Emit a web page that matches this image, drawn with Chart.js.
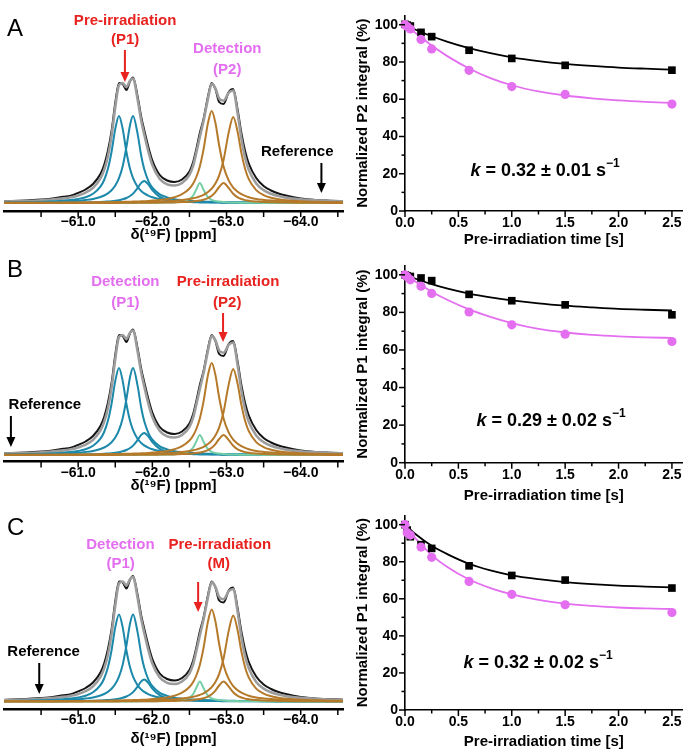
<!DOCTYPE html>
<html>
<head>
<meta charset="utf-8">
<script src="https://cdn.jsdelivr.net/npm/chart.js@4.4.1/dist/chart.umd.min.js"></script>
<style>
  html, body { margin: 0; padding: 0; background: #fff; }
  #fig { position: relative; width: 688px; height: 753px; overflow: hidden; background: #fff; }
  #fig canvas { position: absolute; }
</style>
</head>
<body>
<div id="fig"></div>
<script>
// 1. DATA

// 19F spectrum: chemical shift grid + intensities above baseline (same spectrum in A, B, C)
const ppmGrid = [-60.0, -60.3, -60.6, -60.8, -60.9, -61.0, -61.1, -61.2, -61.3, -61.35, -61.4, -61.45, -61.5, -61.55, -61.6, -61.65, -61.7, -61.74, -61.8, -61.85, -61.89, -61.95, -62.0, -62.1, -62.2, -62.3, -62.4, -62.5, -62.55, -62.59, -62.64, -62.69, -62.75, -62.8, -62.85, -62.9, -62.96, -63.03, -63.09, -63.15, -63.2, -63.25, -63.3, -63.4, -63.5, -63.6, -63.7, -63.8, -64.0, -64.2, -64.4, -64.6];
const measured = [1.6, 2.6, 3.9, 6.2, 7.4, 10.2, 13.5, 19, 29, 38, 52, 72, 100, 120, 119, 113, 122, 125.5, 107, 86, 73, 55, 42.5, 28, 22.5, 21, 23.5, 31.5, 41, 53, 70, 84, 106.5, 120, 114, 101, 99, 111, 114, 93, 70, 52, 39.5, 25, 17, 12.5, 9.5, 7.5, 4.6, 3.0, 2.3, 1.8];
const fitTotal = [1.4, 2.0, 3.2, 4.6, 5.8, 7.6, 10.3, 15.1, 24.6, 33.1, 46.5, 67.4, 96, 118, 120, 116, 122.5, 124.5, 104, 82.4, 68.8, 50.4, 38, 24, 18.6, 17.5, 20, 28.2, 37.3, 49.6, 66, 82, 104.4, 119.1, 114.6, 104.5, 102.3, 110.3, 112.5, 89.5, 64.5, 45.6, 33.2, 19.6, 12.9, 9.2, 6.9, 5.4, 3.6, 2.7, 2.0, 1.6];
const blue1 = [0.5, 0.8, 1.4, 2.2, 2.9, 4.0, 5.8, 9.2, 16.3, 23.0, 33.9, 51.3, 74.1, 87, 74.1, 51.3, 33.9, 24.8, 16.3, 12.0, 9.6, 7.2, 5.8, 4.0, 2.9, 2.2, 1.7, 1.4, 1.2, 1.1, 1.0, 1.0, 0.9, 0.8, 0.7, 0.7, 0.6, 0.6, 0.5, 0.5, 0.5, 0.4, 0.4, 0.4, 0.3, 0.3, 0.3, 0.3, 0.2, 0.2, 0.2, 0.1];
const blue2 = [0.4, 0.6, 1.0, 1.4, 1.7, 2.2, 3.0, 4.1, 6.0, 7.5, 9.6, 12.7, 17.4, 24.8, 36.8, 55.7, 78.3, 87, 69.6, 47.3, 33.9, 21.4, 15.3, 8.7, 5.6, 3.8, 2.8, 2.1, 1.9, 1.7, 1.5, 1.4, 1.2, 1.1, 1.0, 0.9, 0.8, 0.8, 0.7, 0.6, 0.6, 0.6, 0.5, 0.5, 0.4, 0.4, 0.3, 0.3, 0.2, 0.2, 0.2, 0.2];
const blue3 = [0.1, 0.2, 0.2, 0.3, 0.4, 0.5, 0.6, 0.8, 1.0, 1.2, 1.5, 1.8, 2.2, 2.8, 3.7, 5.0, 7.0, 9.4, 14.9, 20.1, 22, 18.1, 12.8, 6.1, 3.3, 2.0, 1.3, 1.0, 0.8, 0.7, 0.6, 0.6, 0.5, 0.4, 0.4, 0.4, 0.3, 0.3, 0.3, 0.2, 0.2, 0.2, 0.2, 0.2, 0.2, 0.1, 0.1, 0.1, 0.1, 0.1, 0.1, 0.1];
const green1 = [0, 0, 0, 0, 0, 0, 0, 0.1, 0.1, 0.1, 0.1, 0.1, 0.1, 0.1, 0.1, 0.1, 0.1, 0.1, 0.1, 0.2, 0.2, 0.2, 0.2, 0.3, 0.5, 0.8, 1.6, 4.0, 7.5, 13.2, 20, 13.2, 5.8, 3.2, 2.0, 1.4, 0.9, 0.6, 0.5, 0.4, 0.3, 0.3, 0.2, 0.2, 0.1, 0.1, 0.1, 0.1, 0, 0, 0, 0];
const brown1 = [0.2, 0.3, 0.3, 0.4, 0.4, 0.5, 0.5, 0.6, 0.7, 0.7, 0.8, 0.9, 0.9, 1.0, 1.1, 1.2, 1.3, 1.4, 1.5, 1.7, 1.8, 2.1, 2.4, 3.1, 4.1, 5.8, 8.8, 14.5, 19.6, 25.5, 36.6, 53.6, 80.1, 92, 80.1, 57.8, 36.6, 22.3, 15.4, 11.2, 8.8, 7.1, 5.8, 4.1, 3.1, 2.4, 1.9, 1.5, 1.1, 0.8, 0.6, 0.5];
const brown2 = [0.2, 0.2, 0.2, 0.3, 0.3, 0.3, 0.4, 0.4, 0.5, 0.5, 0.5, 0.5, 0.6, 0.6, 0.7, 0.7, 0.8, 0.8, 0.9, 0.9, 1.0, 1.1, 1.2, 1.5, 1.8, 2.3, 3.0, 4.0, 4.7, 5.4, 6.6, 8.2, 11.0, 14.4, 19.5, 27.4, 43.0, 70.9, 86, 70.9, 50.1, 34.2, 23.8, 12.9, 7.9, 5.3, 3.7, 2.8, 1.7, 1.2, 0.8, 0.6];
const brown3 = [0, 0, 0.1, 0.1, 0.1, 0.1, 0.1, 0.1, 0.1, 0.1, 0.1, 0.1, 0.1, 0.1, 0.2, 0.2, 0.2, 0.2, 0.2, 0.2, 0.3, 0.3, 0.3, 0.4, 0.5, 0.6, 0.9, 1.3, 1.6, 1.9, 2.5, 3.3, 4.9, 7.2, 10.9, 16.0, 20, 14.9, 9.2, 5.7, 4.0, 2.9, 2.2, 1.4, 0.9, 0.7, 0.5, 0.4, 0.3, 0.2, 0.1, 0.1];
const ppmTicks = [-60.5, -61.0, -61.5, -62.0, -62.5, -63.0, -63.5, -64.0, -64.5];

// decay curves: pre-irradiation time [s] vs normalized integral [%]
const timeSec = [0, 0.02, 0.05, 0.15, 0.25, 0.6, 1.0, 1.5, 2.5];
const squaresA = [100.2, 99.8, 99.3, 95.9, 93.6, 86.3, 81.9, 78.2, 75.6];
const circlesA = [100, 99.0, 97.7, 92.1, 87.0, 75.5, 66.8, 62.6, 57.4];
const squaresB = [100, 99.5, 99.1, 98.3, 96.9, 89.6, 86.2, 84.0, 78.7];
const circlesB = [100, 99.0, 97.3, 93.9, 90.1, 80.2, 73.4, 68.4, 64.5];
const squaresC = [100, 97.1, 93.5, 89.2, 87.2, 77.8, 72.6, 70.1, 65.8];
const circlesC = [100, 95.7, 94.4, 87.9, 82.4, 69.4, 62.4, 56.8, 52.6];

const fitTime = [0, 0.1, 0.25, 0.4, 0.6, 0.8, 1.0, 1.25, 1.5, 1.75, 2.0, 2.25, 2.5];
const fitSquaresA = [100, 97.3, 93.8, 90.8, 87.4, 84.7, 82.5, 80.5, 79.0, 77.9, 77.0, 76.4, 75.9];
const fitCirclesA = [100, 95.5, 88.8, 83.0, 76.5, 71.3, 67.5, 64.2, 62.0, 60.5, 59.4, 58.6, 58.0];
const fitSquaresB = [100, 97.9, 95.0, 92.6, 90.0, 88.0, 86.4, 84.8, 83.6, 82.7, 81.9, 81.4, 81.0];
const fitCirclesB = [100, 96.3, 91.0, 86.6, 81.6, 77.6, 74.3, 71.2, 69.3, 68.0, 67.2, 66.7, 66.4];
const fitSquaresC = [100, 94.8, 88.6, 84.0, 78.9, 75.3, 72.7, 70.6, 69.0, 67.9, 67.1, 66.6, 66.2];
const fitCirclesC = [100, 92.5, 83.6, 77.0, 70.4, 65.8, 62.4, 59.4, 57.4, 56.2, 55.3, 54.8, 54.5];

const timeTicks = [0, 0.25, 0.5, 0.75, 1.0, 1.25, 1.5, 1.75, 2.0, 2.25, 2.5];
const pctTicks = [0, 10, 20, 30, 40, 50, 60, 70, 80, 90, 100];
const rateLabels = ['0.32 \u00b1 0.01', '0.29 \u00b1 0.02', '0.32 \u00b1 0.02'];

// 2. STYLE
const FONT = "'Liberation Sans', Arial, Helvetica, sans-serif";
const RED = '#e8221f';
const VIOLET = '#e46ef0';
const BLUE = '#1c88aa';
const BROWN = '#b5792a';
const GREEN = '#74cfa6';
const GRAY = '#9c9c9c';
const BLACK = '#141414';
const TITLE_SIZE = 15;
const TITLE_HALF = TITLE_SIZE * 1.2 / 2;

Chart.defaults.font.family = FONT;
Chart.defaults.color = '#000';

// layout of each row (local pixels inside each canvas)
const rows = [
  { letter: 'A', top: 0, letterY: 36,
    spec: { h: 250, axis: 211, yMin: -8, title: 235 },
    decay: { h: 250, axis: 211, top: 4, title: 240, kX: 201, kY: 171 },
    yTitle: 'Normalized P2 integral (%)',
    notes: [
      { ppm: -61.633, y: 21, text: 'Pre-irradiation', color: RED },
      { ppm: -61.633, y: 40, text: '(P1)', color: RED },
      { ppm: -63.01, y: 49, text: 'Detection', color: VIOLET },
      { ppm: -63.01, y: 70, text: '(P2)', color: VIOLET },
      { ppm: -63.953, y: 152, text: 'Reference', color: '#000' }
    ],
    arrows: [
      { ppm: -61.63, y1: 50, y2: 82, color: RED },
      { ppm: -64.279, y1: 163, y2: 193, color: '#000' }
    ] },
  { letter: 'B', top: 250, letterY: 27,
    spec: { h: 250, axis: 211.5, yMin: -6.5, title: 236 },
    decay: { h: 258, axis: 212.7, top: 7.5, title: 246, kX: 207, kY: 171 },
    yTitle: 'Normalized P1 integral (%)',
    notes: [
      { ppm: -61.636, y: 32, text: 'Detection', color: VIOLET },
      { ppm: -61.636, y: 52.5, text: '(P1)', color: VIOLET },
      { ppm: -63.021, y: 32, text: 'Pre-irradiation', color: RED },
      { ppm: -63.01, y: 52.5, text: '(P2)', color: RED },
      { ppm: -60.551, y: 155, text: 'Reference', color: '#000' }
    ],
    arrows: [
      { ppm: -62.953, y1: 63, y2: 92, color: RED },
      { ppm: -60.093, y1: 166, y2: 197, color: '#000' }
    ] },
  { letter: 'C', top: 500, letterY: 35,
    spec: { h: 253, axis: 209, yMin: -7.5, title: 239 },
    decay: { h: 253, axis: 210, top: 5.25, title: 241.7, kX: 194, kY: 163 },
    yTitle: 'Normalized P1 integral (%)',
    notes: [
      { ppm: -61.569, y: 44.7, text: 'Detection', color: VIOLET },
      { ppm: -61.573, y: 64, text: '(P1)', color: VIOLET },
      { ppm: -62.909, y: 44.7, text: 'Pre-irradiation', color: RED },
      { ppm: -62.896, y: 64, text: '(M)', color: RED },
      { ppm: -60.534, y: 152, text: 'Reference', color: '#000' }
    ],
    arrows: [
      { ppm: -62.617, y1: 82, y2: 112, color: RED },
      { ppm: -60.475, y1: 163, y2: 194, color: '#000' }
    ] }
];

// 3. PLUGINS
// tick marks drawn outward, long for labelled ticks, short for the others
const tickMarks = {
  id: 'tickMarks',
  afterDraw(chart, args, opts) {
    const ctx = chart.ctx;
    ctx.save();
    ctx.strokeStyle = '#000';
    ctx.lineWidth = opts.width;
    ['x', 'y'].forEach(id => {
      const s = chart.scales[id];
      if (!s || !s.options.display) return;
      s.ticks.forEach(t => {
        const len = t.label !== '' ? opts.major : opts.minor;
        const p = s.getPixelForValue(t.value);
        ctx.beginPath();
        if (id === 'x') { ctx.moveTo(p, s.top); ctx.lineTo(p, s.top + len); }
        else { ctx.moveTo(s.right, p); ctx.lineTo(s.right - len, p); }
        ctx.stroke();
      });
    });
    ctx.restore();
  }
};

// labels, arrows and panel letter over the spectrum
const spectrumNotes = {
  id: 'spectrumNotes',
  afterDraw(chart, args, opts) {
    const ctx = chart.ctx;
    const x = chart.scales.x;
    ctx.save();
    ctx.fillStyle = '#000';
    ctx.font = `24px ${FONT}`;
    ctx.textAlign = 'left';
    ctx.textBaseline = 'alphabetic';
    ctx.fillText(opts.row.letter, 7, opts.row.letterY);

    ctx.font = `bold 15px ${FONT}`;
    ctx.textAlign = 'center';
    ctx.textBaseline = 'middle';
    opts.row.notes.forEach(n => {
      ctx.fillStyle = n.color;
      ctx.fillText(n.text, x.getPixelForValue(n.ppm), n.y);
    });

    opts.row.arrows.forEach(a => {
      const px = x.getPixelForValue(a.ppm);
      ctx.strokeStyle = a.color;
      ctx.fillStyle = a.color;
      ctx.lineWidth = 2;
      ctx.beginPath();
      ctx.moveTo(px, a.y1);
      ctx.lineTo(px, a.y2 - 8);
      ctx.stroke();
      ctx.beginPath();
      ctx.moveTo(px - 4.5, a.y2 - 10);
      ctx.lineTo(px + 4.5, a.y2 - 10);
      ctx.lineTo(px, a.y2);
      ctx.closePath();
      ctx.fill();
    });
    ctx.restore();
  }
};

// rate constant text inside the decay plots
const rateNote = {
  id: 'rateNote',
  afterDraw(chart, args, opts) {
    const ctx = chart.ctx;
    const parts = [
      { font: `italic bold 18px ${FONT}`, text: 'k', dy: 0 },
      { font: `bold 18px ${FONT}`, text: ' = ' + opts.text + ' s', dy: 0 },
      { font: `bold 12px ${FONT}`, text: '\u22121', dy: -7 }
    ];
    ctx.save();
    ctx.fillStyle = '#000';
    ctx.textBaseline = 'middle';
    ctx.textAlign = 'left';
    let total = 0;
    parts.forEach(p => { ctx.font = p.font; p.w = ctx.measureText(p.text).width; total += p.w; });
    let cx = opts.x - total / 2;
    parts.forEach(p => {
      ctx.font = p.font;
      ctx.fillText(p.text, cx, opts.y + p.dy);
      cx += p.w;
    });
    ctx.restore();
  }
};

// 4. CHARTS
const fig = document.getElementById('fig');

function addCanvas(left, top, w, h) {
  const cv = document.createElement('canvas');
  cv.width = w;
  cv.height = h;
  cv.style.left = left + 'px';
  cv.style.top = top + 'px';
  cv.style.width = w + 'px';
  cv.style.height = h + 'px';
  fig.appendChild(cv);
  return cv;
}

const toXY = (xs, ys) => xs.map((x, i) => ({ x, y: ys[i] }));
const boldFont = size => ({ family: FONT, size, weight: 'bold' });
// grid lines off, tick marks come from the tickMarks plugin
const noGrid = { display: false, drawTicks: false, tickLength: 0 };

function makeSpectrum(row) {
  const sp = row.spec;
  const cv = addCanvas(0, row.top, 344, sp.h);
  // first dataset is drawn on top
  const series = [
    [brown1, BROWN, 2], [brown2, BROWN, 2], [brown3, BROWN, 2], [green1, GREEN, 2],
    [blue1, BLUE, 2], [blue2, BLUE, 2], [blue3, BLUE, 2],
    [fitTotal, GRAY, 2.6], [measured, BLACK, 2]
  ];
  new Chart(cv, {
    type: 'line',
    data: {
      datasets: series.map(([vals, color, w]) => ({
        data: toXY(ppmGrid, vals),
        borderColor: color,
        borderWidth: w,
        pointRadius: 0,
        fill: false,
        cubicInterpolationMode: 'monotone'
      }))
    },
    options: {
      responsive: false,
      animation: false,
      devicePixelRatio: 1,
      events: [],
      layout: { padding: { left: 4, right: 1, top: 0, bottom: 0 } },
      plugins: {
        legend: { display: false },
        tooltip: { enabled: false },
        tickMarks: { major: 6, minor: 6, width: 1.5 },
        spectrumNotes: { row }
      },
      scales: {
        x: {
          type: 'linear',
          reverse: true,
          min: -64.57,
          max: -60.0,
          afterBuildTicks: s => { s.ticks = ppmTicks.map(v => ({ value: v })); },
          afterFit: s => { s.height = sp.h - sp.axis; },
          grid: noGrid,
          border: { color: '#000', width: 2.5 },
          ticks: {
            autoSkip: false,
            maxRotation: 0,
            padding: 3,
            color: '#000',
            font: boldFont(14),
            callback: v => Number.isInteger(v) ? '\u2212' + Math.abs(v).toFixed(1) : ''
          },
          title: {
            display: true,
            text: '\u03b4(\u00b9\u2079F) [ppm]',
            color: '#000',
            font: boldFont(TITLE_SIZE),
            padding: { top: 0, bottom: sp.h - sp.title - TITLE_HALF }
          }
        },
        y: { display: false, min: sp.yMin, max: sp.yMin + sp.axis }
      }
    },
    plugins: [tickMarks, spectrumNotes]
  });
}

function makeDecay(row, squares, circles, fitSq, fitCi, kText) {
  const dc = row.decay;
  const cv = addCanvas(344, row.top, 344, dc.h);
  new Chart(cv, {
    type: 'line',
    data: {
      datasets: [
        { data: toXY(timeSec, circles), showLine: false, pointStyle: 'circle', pointRadius: 4.6,
          backgroundColor: VIOLET, borderWidth: 0, clip: false },
        { data: toXY(timeSec, squares), showLine: false, pointStyle: 'rect', pointRadius: 5.4,
          backgroundColor: '#000', borderWidth: 0, clip: false },
        { data: toXY(fitTime, fitCi), borderColor: VIOLET, borderWidth: 1.8, pointRadius: 0,
          fill: false, cubicInterpolationMode: 'monotone' },
        { data: toXY(fitTime, fitSq), borderColor: '#000', borderWidth: 1.8, pointRadius: 0,
          fill: false, cubicInterpolationMode: 'monotone' }
      ]
    },
    options: {
      responsive: false,
      animation: false,
      devicePixelRatio: 1,
      events: [],
      layout: { padding: { left: 0, right: 5, top: dc.top, bottom: 0 } },
      plugins: {
        legend: { display: false },
        tooltip: { enabled: false },
        tickMarks: { major: 6, minor: 3.5, width: 1.5 },
        rateNote: { text: kText, x: dc.kX, y: dc.kY }
      },
      scales: {
        x: {
          type: 'linear',
          min: 0,
          max: 2.6,
          afterBuildTicks: s => { s.ticks = timeTicks.map(v => ({ value: v })); },
          afterFit: s => { s.height = dc.h - dc.axis; },
          grid: noGrid,
          border: { color: '#000', width: 1.6 },
          ticks: {
            autoSkip: false,
            maxRotation: 0,
            padding: 4,
            color: '#000',
            font: boldFont(14),
            callback: v => Math.round(v * 100) % 50 === 0 ? v.toFixed(1) : ''
          },
          title: {
            display: true,
            text: 'Pre-irradiation time [s]',
            color: '#000',
            font: boldFont(TITLE_SIZE),
            padding: { top: 0, bottom: Math.max(0, dc.h - dc.title - TITLE_HALF) }
          }
        },
        y: {
          min: 0,
          max: 105,
          afterBuildTicks: s => { s.ticks = pctTicks.map(v => ({ value: v })); },
          afterFit: s => { s.width = 61; },
          grid: noGrid,
          border: { color: '#000', width: 1.6 },
          ticks: {
            autoSkip: false,
            padding: 7,
            color: '#000',
            font: boldFont(14),
            callback: v => v % 20 === 0 ? String(v) : ''
          },
          title: {
            display: true,
            text: row.yTitle,
            color: '#000',
            font: boldFont(TITLE_SIZE),
            padding: { top: 10, bottom: 0 }
          }
        }
      }
    },
    plugins: [tickMarks, rateNote]
  });
}

rows.forEach(makeSpectrum);
makeDecay(rows[0], squaresA, circlesA, fitSquaresA, fitCirclesA, rateLabels[0]);
makeDecay(rows[1], squaresB, circlesB, fitSquaresB, fitCirclesB, rateLabels[1]);
makeDecay(rows[2], squaresC, circlesC, fitSquaresC, fitCirclesC, rateLabels[2]);
</script>
</body>
</html>
